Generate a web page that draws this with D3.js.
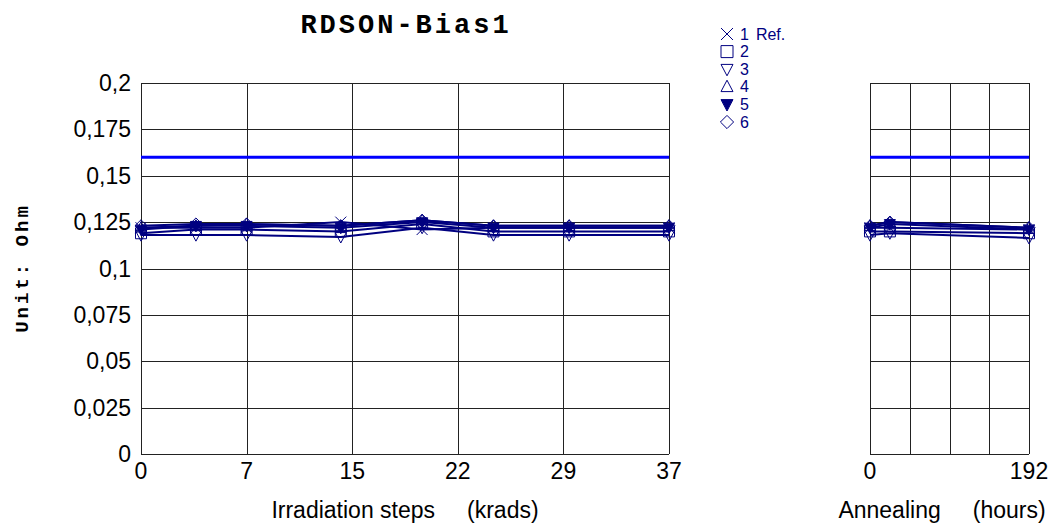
<!DOCTYPE html>
<html>
<head>
<meta charset="utf-8">
<script src="https://cdn.jsdelivr.net/npm/d3@7"></script>
<style>
  html, body { margin: 0; padding: 0; background: #fff; }
  svg { display: block; }
</style>
</head>
<body>
<svg id="chart" width="1061" height="523"></svg>
<script>
// Irradiation steps (krad) and annealing times (hours)
const irradSteps = [0, 3.85, 7.4, 14, 19.7, 24.7, 30, 37];
const annealSteps = [0, 24, 192];

// Axis tick labels
const irradTicks = [0, 7.4, 14.8, 22.2, 29.6, 37];
const irradTickLabels = ["0", "7", "15", "22", "29", "37"];
const annealTicks = [0, 48, 96, 144, 192];
const annealTickLabels = ["0", "", "", "", "192"];
const yTicks = [0, 0.025, 0.05, 0.075, 0.1, 0.125, 0.15, 0.175, 0.2];

// Series names
const seriesNames = ["1", "2", "3", "4", "5", "6"];

// RDSON (Ohm) during irradiation, one array per device
const irrad1 = [0.122, 0.122, 0.122, 0.125, 0.121, 0.122, 0.122, 0.122];
const irrad2 = [0.119, 0.121, 0.121, 0.120, 0.124, 0.120, 0.120, 0.120];
const irrad3 = [0.118, 0.118, 0.118, 0.117, 0.122, 0.118, 0.118, 0.118];
const irrad4 = [0.122, 0.123, 0.124, 0.123, 0.126, 0.123, 0.123, 0.123];
const irrad5 = [0.121, 0.123, 0.123, 0.122, 0.125, 0.122, 0.122, 0.122];
const irrad6 = [0.123, 0.124, 0.124, 0.123, 0.126, 0.123, 0.123, 0.123];

// RDSON (Ohm) during annealing
const anneal1 = [0.122, 0.122, 0.121];
const anneal2 = [0.120, 0.120, 0.119];
const anneal3 = [0.118, 0.119, 0.1165];
const anneal4 = [0.123, 0.125, 0.122];
const anneal5 = [0.122, 0.124, 0.121];
const anneal6 = [0.123, 0.125, 0.122];

// Specification limit
const limitValue = 0.16;

const irradSeries = [irrad1, irrad2, irrad3, irrad4, irrad5, irrad6];
const annealSeries = [anneal1, anneal2, anneal3, anneal4, anneal5, anneal6];

const navy = "#000080";
const sans = "Liberation Sans, Arial, sans-serif";
const mono = "Liberation Mono, Courier New, monospace";
const svg = d3.select("#chart");

const plotTop = 83, plotBottom = 454;
const y = d3.scaleLinear().domain([0, 0.2]).range([plotBottom, plotTop]);
const xIrr = d3.scaleLinear().domain([0, 37]).range([141, 669]);
const xAnn = d3.scaleLinear().domain([0, 192]).range([870, 1029]);

const fmt = v => String(v).replace(".", ",");

// Marker shapes
const S = 5.5;
function markerPath(i, s = S) {
  switch (i) {
    case 0: return `M${-s},${-s}L${s},${s}M${-s},${s}L${s},${-s}`;
    case 1: return `M${-s},${-s}H${s}V${s}H${-s}Z`;
    case 2: return `M${-s},${-s * 0.8}H${s}L0,${s * 1.1}Z`;
    case 3: return `M${-s},${s * 0.8}H${s}L0,${-s * 1.1}Z`;
    case 4: return `M${-s},${-s * 0.8}H${s}L0,${s * 1.1}Z`;
    case 5: return `M0,${-s * 1.1}L${s * 1.1},0L0,${s * 1.1}L${-s * 1.1},0Z`;
  }
}
const markerFill = i => (i === 4 ? navy : "none");

function drawPanel(x, ticks, labels, steps, series, titleA, titleB, titleX) {
  const x0 = x.range()[0], x1 = x.range()[1];
  const g = svg.append("g");

  // horizontal grid
  g.selectAll(".hg").data(yTicks).enter().append("line")
    .attr("x1", x0).attr("x2", x1)
    .attr("y1", d => Math.round(y(d)) + 0.5).attr("y2", d => Math.round(y(d)) + 0.5)
    .attr("stroke", "#222").attr("stroke-width", 1);
  // vertical grid
  g.selectAll(".vg").data(ticks).enter().append("line")
    .attr("x1", d => Math.round(x(d)) + 0.5).attr("x2", d => Math.round(x(d)) + 0.5)
    .attr("y1", plotTop).attr("y2", plotBottom)
    .attr("stroke", "#222").attr("stroke-width", 1);

  // x tick labels
  g.selectAll(".xl").data(ticks).enter().append("text")
    .attr("x", d => x(d)).attr("y", 479)
    .attr("text-anchor", "middle")
    .attr("font-family", sans)
    .attr("font-size", 23).attr("fill", "#000")
    .text((d, i) => labels[i]);

  // axis title
  const t = g.append("text")
    .attr("x", titleX).attr("y", 518)
    .attr("text-anchor", "middle")
    .attr("font-family", sans)
    .attr("font-size", 23).attr("fill", "#000");
  t.append("tspan").text(titleA);
  t.append("tspan").attr("dx", 32).text(titleB);

  // limit line
  g.append("line")
    .attr("x1", x0).attr("x2", x1)
    .attr("y1", y(limitValue)).attr("y2", y(limitValue))
    .attr("stroke", "#0000ff").attr("stroke-width", 3);

  // series lines
  const line = d3.line().x((d, i) => x(steps[i])).y(d => y(d));
  series.forEach(vals => {
    g.append("path").datum(vals)
      .attr("d", line)
      .attr("fill", "none").attr("stroke", navy).attr("stroke-width", 2);
  });
  // markers
  series.forEach((vals, si) => {
    g.selectAll(null).data(vals).enter().append("path")
      .attr("transform", (d, i) => `translate(${x(steps[i])},${y(d)})`)
      .attr("d", markerPath(si))
      .attr("fill", markerFill(si))
      .attr("stroke", navy).attr("stroke-width", 1);
  });
}

drawPanel(xIrr, irradTicks, irradTickLabels, irradSteps, irradSeries, "Irradiation steps", "(krads)", 405);
drawPanel(xAnn, annealTicks, annealTickLabels, annealSteps, annealSeries, "Annealing", "(hours)", 942);

// y axis labels
svg.selectAll(".yl").data(yTicks).enter().append("text")
  .attr("x", 131).attr("y", d => y(d) + 8)
  .attr("text-anchor", "end")
  .attr("font-family", sans)
  .attr("font-size", 23).attr("fill", "#000")
  .text(d => fmt(d));

// y axis title
svg.append("text")
  .attr("transform", "translate(28,268) rotate(-90)")
  .attr("text-anchor", "middle")
  .attr("font-family", mono)
  .attr("font-weight", "bold")
  .attr("font-size", 19)
  .attr("letter-spacing", 3)
  .attr("fill", "#000")
  .text("Unit: Ohm");

// title
svg.append("text")
  .attr("x", 406).attr("y", 33)
  .attr("text-anchor", "middle")
  .attr("font-family", mono)
  .attr("font-weight", "bold")
  .attr("font-size", 27)
  .attr("letter-spacing", 3)
  .attr("fill", "#000")
  .text("RDSON-Bias1");

// legend
const legend = svg.append("g");
seriesNames.forEach((name, i) => {
  const ly = 34 + i * 17.6;
  legend.append("path")
    .attr("transform", `translate(727,${ly})`)
    .attr("d", markerPath(i, 6))
    .attr("fill", markerFill(i))
    .attr("stroke", navy).attr("stroke-width", 1);
  const t = legend.append("text")
    .attr("x", 740).attr("y", ly + 5.5)
    .attr("font-family", sans)
    .attr("font-size", 16).attr("fill", navy)
    .text(name);
  if (i === 0) t.append("tspan").attr("dx", 7).attr("font-size", 16).text("Ref.");
});
</script>
</body>
</html>
